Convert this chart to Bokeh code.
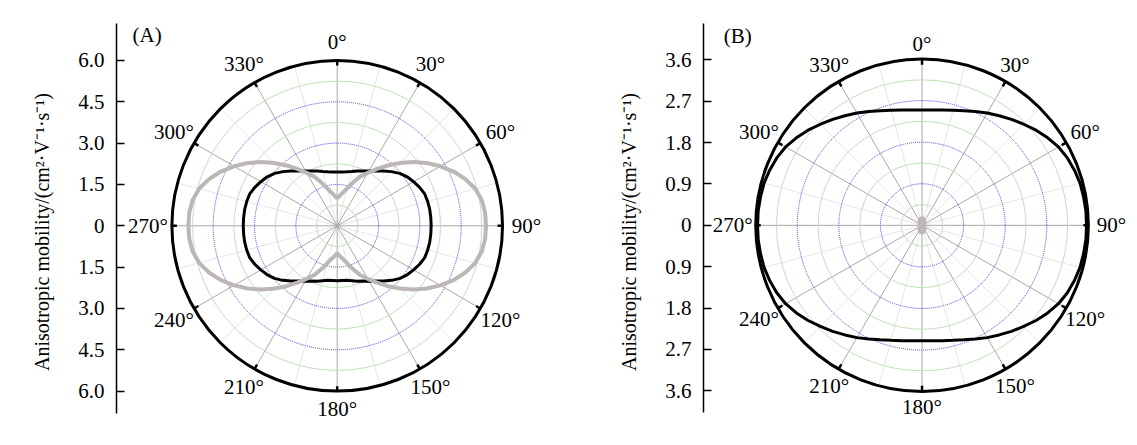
import numpy as np
from bokeh.plotting import figure
from bokeh.models import Range1d, FixedTicker, CustomJSTickFormatter, ColumnDataSource, LabelSet
from bokeh.layouts import row
from bokeh.core.properties import value
from bokeh.embed import file_html
from bokeh.resources import INLINE

# ---------------- data ----------------
angles_deg = list(range(0, 365, 5))

# Panel A (outer radius 6.0)
a_black = [1.95, 1.96, 1.99, 2.04, 2.12, 2.19, 2.30, 2.43, 2.60, 2.78, 2.96, 3.10, 3.20, 3.30, 3.38, 3.40, 3.41, 3.41,
           3.41,
           3.41, 3.41, 3.40, 3.38, 3.30, 3.20, 3.10, 2.97, 2.80, 2.62, 2.45, 2.32, 2.21, 2.14, 2.06, 2.01, 1.99,
           1.99,
           1.99, 2.01, 2.06, 2.14, 2.21, 2.32, 2.45, 2.62, 2.80, 2.97, 3.10, 3.20, 3.30, 3.38, 3.40, 3.41, 3.41,
           3.41,
           3.41, 3.41, 3.40, 3.38, 3.30, 3.20, 3.10, 2.96, 2.78, 2.60, 2.43, 2.30, 2.19, 2.12, 2.04, 1.99, 1.96,
           1.95]
a_gray = [0.99, 1.10, 1.23, 1.41, 1.67, 1.97, 2.22, 2.52, 2.86, 3.22, 3.60, 3.97, 4.32, 4.66, 4.95, 5.19, 5.33, 5.39,
          5.40,
          5.39, 5.33, 5.19, 4.95, 4.66, 4.32, 3.97, 3.60, 3.22, 2.86, 2.52, 2.22, 1.97, 1.67, 1.41, 1.23, 1.10,
          0.99,
          1.10, 1.23, 1.41, 1.67, 1.97, 2.22, 2.52, 2.86, 3.22, 3.60, 3.97, 4.32, 4.66, 4.95, 5.19, 5.33, 5.39,
          5.40,
          5.39, 5.33, 5.19, 4.95, 4.66, 4.32, 3.97, 3.60, 3.22, 2.86, 2.52, 2.22, 1.97, 1.67, 1.41, 1.23, 1.10,
          0.99]

# Panel B (outer radius 3.6)
b_black = [2.51, 2.52, 2.55, 2.59, 2.65, 2.73, 2.82, 2.91, 3.01, 3.11, 3.22, 3.32, 3.41, 3.47, 3.51, 3.54, 3.55, 3.56,
           3.56,
           3.56, 3.55, 3.54, 3.51, 3.47, 3.41, 3.32, 3.22, 3.11, 3.01, 2.91, 2.82, 2.73, 2.65, 2.59, 2.55, 2.52,
           2.51,
           2.52, 2.55, 2.59, 2.65, 2.73, 2.82, 2.91, 3.01, 3.11, 3.22, 3.32, 3.41, 3.47, 3.51, 3.54, 3.55, 3.56,
           3.56,
           3.56, 3.55, 3.54, 3.51, 3.47, 3.41, 3.32, 3.22, 3.11, 3.01, 2.91, 2.82, 2.73, 2.65, 2.59, 2.55, 2.52,
           2.51]
b_gray = [0.15, 0.15, 0.15, 0.14, 0.13, 0.115, 0.10, 0.09, 0.08, 0.07, 0.06, 0.055, 0.05, 0.047, 0.045, 0.042, 0.04, 0.04,
          0.04,
          0.04, 0.04, 0.042, 0.045, 0.047, 0.05, 0.055, 0.06, 0.07, 0.08, 0.09, 0.10, 0.115, 0.13, 0.14, 0.15, 0.15,
          0.15,
          0.15, 0.15, 0.14, 0.13, 0.115, 0.10, 0.09, 0.08, 0.07, 0.06, 0.055, 0.05, 0.047, 0.045, 0.042, 0.04, 0.04,
          0.04,
          0.04, 0.04, 0.042, 0.045, 0.047, 0.05, 0.055, 0.06, 0.07, 0.08, 0.09, 0.10, 0.115, 0.13, 0.14, 0.15, 0.15,
          0.15]

angle_labels = ["0°", "30°", "60°", "90°", "120°", "150°", "180°", "210°", "240°", "270°", "300°", "330°"]
major_angles = [0, 30, 60, 90, 120, 150, 180, 210, 240, 270, 300, 330]
minor_angles = [15, 45, 75, 105, 135, 165, 195, 225, 255, 285, 315, 345]

a_rmax = 6.0
a_green = [0.75, 2.25, 3.75, 5.25]
a_blue = [1.5, 3.0, 4.5]
a_ticks = [-6.0, -4.5, -3.0, -1.5, 0, 1.5, 3.0, 4.5, 6.0]

b_rmax = 3.6
b_green = [0.45, 1.35, 2.25, 3.15]
b_blue = [0.9, 1.8, 2.7]
b_ticks = [-3.6, -2.7, -1.8, -0.9, 0, 0.9, 1.8, 2.7, 3.6]

FONT_NAME = "Liberation Serif"
FONT = value(FONT_NAME)
YLABEL = "Anisotropic mobility/(cm²·V⁻¹·s⁻¹)"


def pol(r, deg):
    t = np.radians(np.asarray(deg, dtype=float))
    r = np.asarray(r, dtype=float)
    return r * np.sin(t), r * np.cos(t)


def panel(width, height, bl, br, bt, bb, xr, yr, bounds, rmax, green, blue, ticks, black, gray,
          tag, tag_xy, px_per_unit, off_base, off_side):
    p = figure(width=width, height=height, x_range=Range1d(*xr), y_range=Range1d(*yr),
               output_backend="svg", toolbar_location=None, x_axis_location=None,
               min_border_left=bl, min_border_right=br, min_border_top=bt, min_border_bottom=bb)
    p.grid.visible = False
    p.outline_line_color = None
    p.background_fill_color = "white"

    # radial spokes
    for angs, col in ((minor_angles, "#e6e6e6"), (major_angles, "#a8a8a8")):
        ex, ey = pol([rmax] * len(angs), angs)
        p.segment(x0=[0] * len(angs), y0=[0] * len(angs), x1=ex, y1=ey, line_color=col, line_width=1)

    # ring grid
    p.circle(x=[0] * len(green), y=[0] * len(green), radius=green, fill_color=None,
             line_color="#bfe0b8", line_width=1)
    p.circle(x=[0] * len(blue), y=[0] * len(blue), radius=blue, fill_color=None,
             line_color="#4646dc", line_width=1, line_dash="1 1")

    # curves
    bx, by = pol(black, angles_deg)
    p.line(bx, by, line_color="black", line_width=3)
    gx, gy = pol(gray, angles_deg)
    p.line(gx, gy, line_color="#bcb6b6", line_width=4)

    # outer circle + inward ticks
    p.circle(x=[0], y=[0], radius=[rmax], fill_color=None, line_color="black", line_width=3)
    tl = 5.0 / px_per_unit
    ox, oy = pol([rmax] * 12, major_angles)
    ix, iy = pol([rmax - tl] * 12, major_angles)
    p.segment(x0=ox, y0=oy, x1=ix, y1=iy, line_color="black", line_width=2.5)

    # angle labels
    t = np.radians(major_angles)
    d = off_base + off_side * np.abs(np.sin(t))
    src = ColumnDataSource(dict(x=ox, y=oy, text=angle_labels,
                                xo=d * np.sin(t), yo=d * np.cos(t)))
    p.add_layout(LabelSet(x="x", y="y", text="text", x_offset="xo", y_offset="yo", source=src,
                          text_font=FONT, text_font_size="21px", text_color="black",
                          text_align="center", text_baseline="middle"))

    p.text(x=[tag_xy[0]], y=[tag_xy[1]], text=[tag], text_font=FONT, text_font_size="21px",
           text_color="black", text_align="left", text_baseline="middle")

    ax = p.yaxis[0]
    ax.bounds = bounds
    ax.ticker = FixedTicker(ticks=ticks)
    ax.formatter = CustomJSTickFormatter(code="return tick == 0 ? '0' : Math.abs(tick).toFixed(1);")
    ax.major_tick_in = 8
    ax.major_tick_out = 0
    ax.minor_tick_in = 0
    ax.minor_tick_out = 0
    ax.axis_line_width = 1.5
    ax.major_tick_line_width = 1.5
    ax.axis_line_color = "black"
    ax.major_tick_line_color = "black"
    ax.major_label_standoff = 12
    ax.major_label_text_font = FONT_NAME
    ax.major_label_text_font_size = "21px"
    ax.major_label_text_color = "black"
    ax.axis_label = YLABEL
    ax.axis_label_text_font = FONT_NAME
    ax.axis_label_text_font_size = "20px"
    ax.axis_label_text_font_style = "normal"
    ax.axis_label_text_color = "black"
    ax.axis_label_standoff = 22
    return p


pa = panel(580, 445, 116, 0, 23, 5, (-8.01, 8.83), (-7.79, 7.34), (-6.81, 7.34),
           a_rmax, a_green, a_blue, a_ticks,
           a_black, a_gray, "(A)", (-7.43, 6.94), 27.56, 18, 6)
pb = panel(557, 445, 123, 8, 21, 5, (-4.73, 4.49), (-4.68, 4.39), (-4.07, 4.39),
           b_rmax, b_green, b_blue, b_ticks,
           b_black, b_gray, "(B)", (-4.29, 4.12), 46.2, 16, 7)

layout = row(pa, pb)
open("out.html", "w").write(file_html(layout, INLINE))
